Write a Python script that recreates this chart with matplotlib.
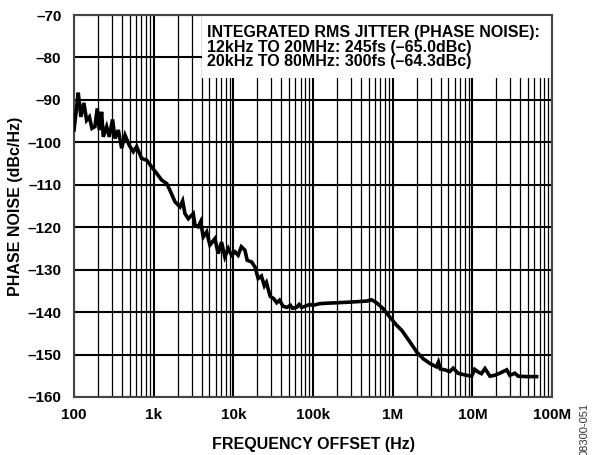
import matplotlib
matplotlib.use('Agg')
import matplotlib.pyplot as plt
from matplotlib.patches import Rectangle
from matplotlib.ticker import FixedLocator, FixedFormatter, LogLocator, NullFormatter

plt.rcParams['font.family'] = ['Liberation Sans', 'DejaVu Sans']
plt.rcParams['font.weight'] = 'bold'

# phase noise trace (Hz, dBc/Hz)
freq = [100, 108, 113, 122, 133, 144, 156, 168, 183, 196, 208, 222, 233, 257, 277,
        305, 327, 360, 396, 437, 494, 555, 612, 706, 817, 944, 1090, 1260, 1456,
        1600, 1850, 2140, 2310, 2470, 2720, 3140, 3300, 3630, 3890, 4190, 4620,
        5080, 5870, 6460, 7110, 7830, 8630, 9510, 10470, 11480, 12600, 13960,
        14930, 17000, 18700, 20500, 22500, 24500, 26000, 29000, 32000, 35000,
        38000, 42000, 47000, 52000, 55000, 62000, 67000, 72000, 80000, 91000,
        100e3, 122e3, 150e3, 198e3, 320e3, 471e3, 543e3, 628e3, 760e3, 923e3,
        1.12e6, 1.3e6, 1.64e6, 2.0e6, 2.42e6, 2.93e6, 3.55e6, 3.75e6, 3.95e6,
        4.5e6, 5.2e6, 5.75e6, 6.6e6, 8.05e6, 9.8e6, 10.7e6, 11.8e6, 13.0e6,
        14.4e6, 16.6e6, 19.0e6, 22.1e6, 27.0e6, 29.5e6, 34.1e6, 37.6e6, 47.9e6,
        64e6]
noise = [-97.1, -91.6, -88.3, -94.0, -90.7, -94.8, -94.0, -96.7, -96.3, -92.0,
         -97.1, -92.8, -98.7, -96.3, -98.7, -94.6, -99.1, -97.1, -101.4, -98.3,
         -100.7, -102.2, -101.0, -103.8, -104.2, -105.8, -107.3, -108.9, -109.7,
         -111.3, -114.0, -115.2, -113.8, -116.8, -118.0, -116.8, -119.5, -119.9,
         -118.7, -122.3, -121.1, -124.2, -122.7, -126.2, -123.5, -127.0, -125.0,
         -126.6, -125.8, -126.6, -124.6, -125.4, -127.8, -128.2, -129.4, -132.1,
         -131.5, -133.8, -133.0, -136.3, -136.8, -137.8, -137.2, -138.6, -138.9,
         -138.4, -139.1, -138.9, -138.2, -138.9, -138.6, -138.2, -138.4, -138.0,
         -137.9, -137.8, -137.6, -137.4, -137.1, -137.8, -139.2, -141.2, -143.1,
         -144.3, -147.0, -149.4, -151.0, -152.1, -152.9, -151.8, -153.4, -153.6,
         -154.0, -153.2, -154.4, -154.8, -155.1, -153.5, -154.1, -154.5, -153.3,
         -155.1, -154.9, -154.4, -153.6, -154.9, -154.4, -155.1, -155.2, -155.2]

xticks = [1e2, 1e3, 1e4, 1e5, 1e6, 1e7, 1e8]
xlabels = ['100', '1k', '10k', '100k', '1M', '10M', '100M']
yticks = [-160, -150, -140, -130, -120, -110, -100, -90, -80, -70]
ylabels = ['–160', '–150', '–140', '–130', '–120', '–110', '–100', '–90', '–80', '–70']

note = ('INTEGRATED RMS JITTER (PHASE NOISE):\n'
        '12kHz TO 20MHz: 245fs (–65.0dBc)\n'
        '20kHz TO 80MHz: 300fs (–64.3dBc)')

fig = plt.figure(figsize=(5.92, 4.55), dpi=100)
ax = fig.add_axes([0.125, 0.1275, 0.8075, 0.8395])

ax.semilogx(freq, noise, color='black', lw=2.6, solid_joinstyle='miter', zorder=3)

ax.set_xlim(1e2, 1e8)
ax.set_ylim(-160, -70)
ax.xaxis.set_major_locator(FixedLocator(xticks))
ax.xaxis.set_major_formatter(FixedFormatter(xlabels))
ax.xaxis.set_minor_locator(LogLocator(base=10, subs=range(2, 10), numticks=20))
ax.xaxis.set_minor_formatter(NullFormatter())
ax.yaxis.set_major_locator(FixedLocator(yticks))
ax.yaxis.set_major_formatter(FixedFormatter(ylabels))

ax.grid(True, which='major', color='black', lw=1.5)
ax.grid(True, which='minor', axis='x', color='black', lw=0.9)
ax.tick_params(which='both', length=0, labelsize=11)
ax.tick_params(axis='x', pad=8)
ax.tick_params(axis='y', pad=9)
for s in ax.spines.values():
    s.set_color('#444444')
    s.set_linewidth(1.5)

ax.set_xlabel('FREQUENCY OFFSET (Hz)', fontsize=11.5, fontweight='bold', labelpad=11)
ax.set_ylabel('PHASE NOISE (dBc/Hz)', fontsize=11.5, fontweight='bold', labelpad=3)

# white panel behind the jitter note
ax.add_patch(Rectangle((0.267, 0.835), 0.733, 0.165, transform=ax.transAxes,
                       facecolor='white', edgecolor='none', zorder=2.5))
ax.text(0.278, 0.974, note, transform=ax.transAxes, fontsize=11.5, fontweight='bold',
        va='top', ha='left', linespacing=0.98, zorder=4)

fig.text(0.987, 1 - 403 / 455, '08300-051', rotation=90, fontsize=8, fontweight='normal',
         color='#333333', ha='center', va='top')

fig.savefig('out.png', dpi=100)
